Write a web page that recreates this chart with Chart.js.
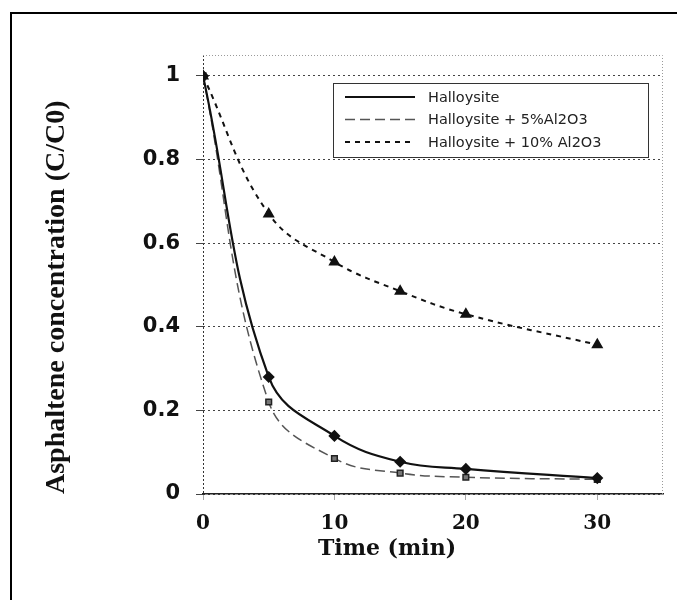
<!DOCTYPE html>
<html><head><meta charset="utf-8">
<script src="https://cdn.jsdelivr.net/npm/chart.js@4.4.0/dist/chart.umd.min.js"></script>
<style>
html,body{margin:0;padding:0;background:#fff;overflow:hidden;}
#wrap{position:relative;width:677px;height:600px;overflow:hidden;}
#frame{position:absolute;left:10px;top:12px;width:700px;height:700px;border:2px solid #000;box-sizing:border-box;pointer-events:none;}
canvas{position:absolute;left:0;top:0;}
</style></head><body>
<div id="wrap"><canvas id="c" width="677" height="600"></canvas><div id="frame"></div></div>
<script>
const times = [0, 5, 10, 15, 20, 30];
const halloysite = [1, 0.28, 0.139, 0.077, 0.06, 0.038];
const halloysite5 = [1, 0.22, 0.085, 0.05, 0.04, 0.035];
const halloysite10 = [1, 0.67, 0.555, 0.485, 0.43, 0.357];
const seriesLabels = ['Halloysite', 'Halloysite + 5%Al2O3', 'Halloysite + 10% Al2O3'];
const xTicks = [0, 10, 20, 30];
const yTicks = [0, 0.2, 0.4, 0.6, 0.8, 1];
const xTitle = 'Time (min)';
const yTitle = 'Asphaltene concentration (C/C0)';

const pts = arr => times.map((t, i) => ({x: t, y: arr[i]}));

const framePlugin = {
  id: 'plotFrame',
  beforeDatasetsDraw(chart) {
    const {ctx, chartArea: a} = chart;
    ctx.save();
    ctx.strokeStyle = '#9a9a9a';
    ctx.lineWidth = 1;
    ctx.setLineDash([1, 2]);
    ctx.beginPath();
    ctx.moveTo(a.left, a.top + 0.5);
    ctx.lineTo(a.right - 0.5, a.top + 0.5);
    ctx.lineTo(a.right - 0.5, a.bottom);
    ctx.stroke();
    ctx.restore();
  }
};

const legendPlugin = {
  id: 'boxLegend',
  afterDraw(chart) {
    const {ctx} = chart;
    const bx = 333, by = 83, bw = 315, bh = 74;
    ctx.save();
    ctx.fillStyle = '#fff';
    ctx.fillRect(bx, by, bw, bh);
    ctx.strokeStyle = '#333';
    ctx.lineWidth = 1;
    ctx.setLineDash([]);
    ctx.strokeRect(bx + 0.5, by + 0.5, bw, bh);
    chart.data.datasets.forEach((ds, i) => {
      const y = by + 14 + i * 22.5;
      ctx.save();
      ctx.strokeStyle = ds.borderColor;
      ctx.lineWidth = ds.borderWidth;
      ctx.setLineDash(ds.borderDash || []);
      ctx.beginPath();
      ctx.moveTo(345, y);
      ctx.lineTo(415, y);
      ctx.stroke();
      ctx.restore();
      ctx.fillStyle = '#222';
      ctx.font = '14.5px "DejaVu Sans"';
      ctx.textBaseline = 'middle';
      ctx.textAlign = 'left';
      ctx.fillText(ds.label, 428, y + 1);
    });
    ctx.restore();
  }
};

const xTitlePlugin = {
  id: 'xTitle',
  afterDraw(chart) {
    const {ctx} = chart;
    ctx.save();
    ctx.fillStyle = '#111';
    ctx.font = 'bold 22px "DejaVu Serif"';
    ctx.textAlign = 'center';
    ctx.textBaseline = 'middle';
    ctx.fillText(xTitle, 387, 549);
    ctx.restore();
  }
};

new Chart(document.getElementById('c'), {
  type: 'line',
  data: {
    datasets: [
      {label: seriesLabels[0], data: pts(halloysite), borderColor: '#111', backgroundColor: '#111',
       borderWidth: 2.2, pointStyle: 'rectRot', pointRadius: 4.5, pointBorderColor: '#111', pointBackgroundColor: '#111',
       tension: 0.4},
      {label: seriesLabels[1], data: pts(halloysite5), borderColor: '#555', backgroundColor: '#555',
       borderWidth: 1.5, borderDash: [10, 5], pointStyle: 'rect', pointRadius: 4, pointBorderColor: '#222', pointBackgroundColor: '#777',
       tension: 0.4},
      {label: seriesLabels[2], data: pts(halloysite10), borderColor: '#111', backgroundColor: '#111',
       borderWidth: 2, borderDash: [5, 5], pointStyle: 'triangle', pointRadius: 5, pointBorderColor: '#111', pointBackgroundColor: '#111',
       tension: 0.4}
    ]
  },
  options: {
    responsive: false,
    animation: false,
    devicePixelRatio: 1,
    layout: {padding: {left: 0, top: 55, right: 14, bottom: 0}},
    plugins: {legend: {display: false}, tooltip: {enabled: false}},
    scales: {
      x: {
        type: 'linear', min: 0, max: 35,
        afterBuildTicks: s => { s.ticks = xTicks.map(v => ({value: v})); },
        afterFit: s => { s.height = 106; },
        ticks: {font: {family: 'DejaVu Serif', weight: 'bold', size: 20}, color: '#111', padding: 12,
                callback: v => String(v), maxRotation: 0, autoSkip: false},
        grid: {color: c => (c.tick && c.tick.value === 0) ? '#333' : 'rgba(0,0,0,0)', lineWidth: 1,
               tickColor: '#555', tickLength: 6, tickBorderDash: [1, 1], drawOnChartArea: true},
        border: {display: true, color: '#222', width: 1.5, dash: [2, 2]},
        title: {display: false}
      },
      y: {
        min: 0, max: 1.05,
        afterBuildTicks: s => { s.ticks = yTicks.map(v => ({value: v})); },
        afterFit: s => { s.width = 203; },
        ticks: {font: {family: 'DejaVu Sans', weight: 'bold', size: 21}, color: '#111', padding: 16,
                callback: v => String(v), autoSkip: false},
        grid: {color: '#444', lineWidth: 1, tickColor: '#444', tickLength: 7},
        border: {display: false, dash: [2, 3]},
        title: {display: true, text: yTitle, align: 'start', color: '#111',
                font: {family: 'Liberation Serif', weight: 'bold', size: 28}, padding: {top: 40, bottom: 0}}
      }
    }
  },
  plugins: [framePlugin, legendPlugin, xTitlePlugin]
});
</script>
</body></html>
